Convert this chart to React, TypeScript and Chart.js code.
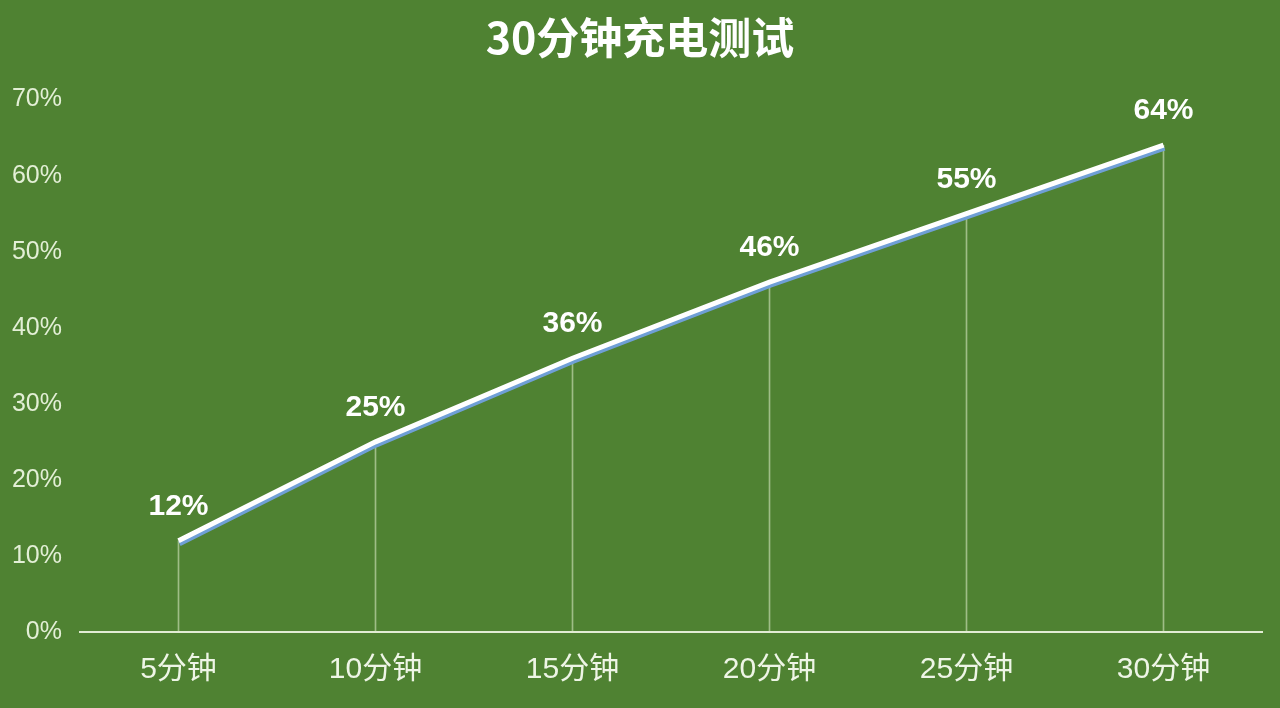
import React, { useEffect, useRef } from 'react';
import { Chart, registerables } from 'chart.js';

Chart.register(...registerables);

const title = '30分钟充电测试';
const categories = ['5分钟', '10分钟', '15分钟', '20分钟', '25分钟', '30分钟'];
const chargeValues = [12, 25, 36, 46, 55, 64];
const yTicks = [0, 10, 20, 30, 40, 50, 60, 70];

const BG = '#4f8232';
const LABEL_FONT = '"Liberation Sans", "Noto Sans CJK SC", sans-serif';

// blue shadow under the white line
const lineShadow = {
  id: 'lineShadow',
  beforeDatasetDraw(chart: any, args: any) {
    if (args.index !== 0) return;
    const ctx = chart.ctx;
    ctx.save();
    ctx.shadowColor = '#6f9fd6';
    ctx.shadowOffsetX = 1;
    ctx.shadowOffsetY = 3;
    ctx.shadowBlur = 0;
  },
  afterDatasetDraw(chart: any, args: any) {
    if (args.index !== 0) return;
    chart.ctx.restore();
  },
};

// value labels above each point
const valueLabels = {
  id: 'valueLabels',
  afterDatasetsDraw(chart: any) {
    const ctx = chart.ctx;
    const meta = chart.getDatasetMeta(0);
    ctx.save();
    ctx.fillStyle = '#ffffff';
    ctx.font = `bold 30px ${LABEL_FONT}`;
    ctx.textAlign = 'center';
    ctx.textBaseline = 'middle';
    meta.data.forEach((pt: any, i: number) => {
      ctx.fillText(chargeValues[i] + '%', pt.x, pt.y - 34);
    });
    ctx.restore();
  },
};

export default function App() {
  const chartRef = useRef<HTMLCanvasElement>(null);

  useEffect(() => {
    if (!chartRef.current) return;
    const config: any = {
      type: 'line',
      data: {
        labels: categories,
        datasets: [
          {
            type: 'line',
            data: chargeValues,
            borderColor: '#ffffff',
            borderWidth: 5,
            pointRadius: 0,
            tension: 0,
            order: 0,
          },
          {
            type: 'bar',
            data: chargeValues,
            backgroundColor: 'rgba(225, 238, 205, 0.55)',
            barThickness: 1,
            order: 1,
          },
        ],
      },
      options: {
        animation: false,
        responsive: true,
        maintainAspectRatio: false,
        layout: { padding: 0 },
        plugins: {
          legend: { display: false },
          tooltip: { enabled: false },
          title: {
            display: true,
            text: title,
            color: '#ffffff',
            font: { family: '"Noto Sans CJK SC", sans-serif', size: 43, weight: 600 },
            padding: { top: 12, bottom: 36 },
          },
        },
        scales: {
          x: {
            offset: true,
            grid: { display: true, drawOnChartArea: false, drawTicks: false },
            border: { display: true, color: '#e2ecd4', width: 2 },
            ticks: {
              color: '#eef5e6',
              padding: 20,
              font: { family: LABEL_FONT, size: 30 },
            },
          },
          y: {
            min: yTicks[0],
            max: yTicks[yTicks.length - 1],
            afterFit: (s: any) => { s.width = 80; },
            grid: { display: false },
            border: { display: false },
            afterBuildTicks: (s: any) => { s.ticks = yTicks.map((v) => ({ value: v })); },
            ticks: {
              color: '#e3efd6',
              padding: 10,
              font: { family: LABEL_FONT, size: 25 },
              callback: (v: any) => v + '%',
            },
          },
          // empty right-hand margin so the title centres on the page
          yRight: {
            position: 'right',
            min: yTicks[0],
            max: yTicks[yTicks.length - 1],
            afterFit: (s: any) => { s.width = 18; },
            grid: { display: false },
            border: { display: false },
            ticks: { display: false },
          },
        },
      },
      plugins: [lineShadow, valueLabels],
    };
    const chart = new Chart(chartRef.current, config);
    return () => chart.destroy();
  }, []);

  return (
    <div style={{ position: 'absolute', left: 0, top: 0, width: 1280, height: 708, background: BG }}>
      <canvas ref={chartRef}></canvas>
    </div>
  );
}
